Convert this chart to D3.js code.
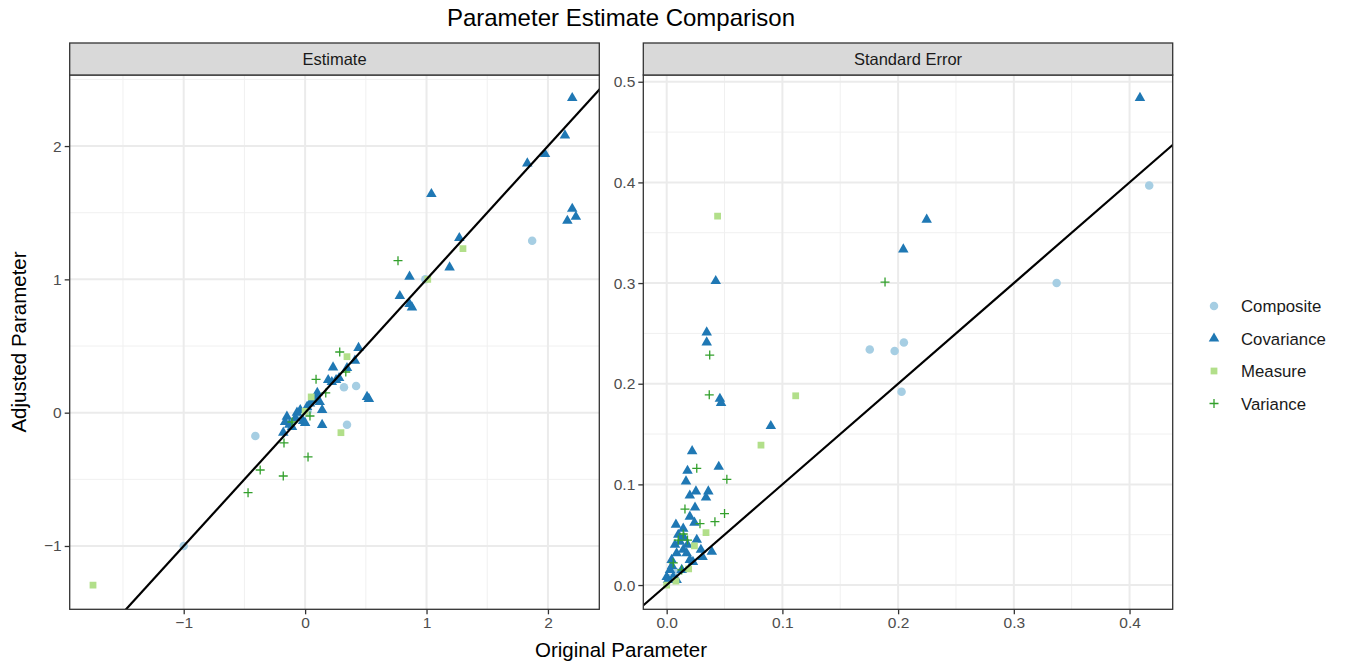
<!DOCTYPE html>
<html>
<head>
<meta charset="utf-8">
<script src="https://cdn.jsdelivr.net/npm/d3@7"></script>
<style>
  body { margin: 0; background: #fff; }
  text { font-family: "Liberation Sans", Arial, sans-serif; }
</style>
</head>
<body>
<div id="chart"></div>
<script>
// Data: [original, adjusted] pairs

var groups = ["Composite", "Covariance", "Measure", "Variance"];
var colors = ["#a6cee3", "#1f78b4", "#b2df8a", "#33a02c"];

var estComposite = [[1.87,1.29],[0.99,1.0],[0.32,0.19],[0.42,0.20],[-0.41,-0.175],[0.345,-0.09],[-1.0,-1.0],[0.02,0.01],[-0.05,-0.03]];
var estCovariance = [[2.20,2.36],[2.14,2.08],[1.976,1.94],[1.83,1.87],[2.20,1.53],[2.23,1.47],[2.16,1.44],[1.04,1.64],
  [1.27,1.31],[1.19,1.09],[0.86,1.02],[0.78,0.875],[0.86,0.815],[0.88,0.79],[0.44,0.486],[0.41,0.39],[0.23,0.34],
  [0.345,0.335],[0.19,0.245],[0.22,0.23],[0.255,0.245],[0.28,0.26],[0.51,0.118],[0.525,0.103],[0.10,0.148],
  [0.065,0.095],[0.12,0.08],[0.016,0.043],[-0.04,0.02],[-0.067,0.0],[-0.15,-0.03],[-0.165,-0.07],[-0.017,-0.062],
  [0.0,-0.077],[0.14,0.02],[0.14,-0.092],[-0.18,-0.15],[-0.108,-0.107],[0.04,0.07],[-0.08,-0.04],[-0.13,-0.09],[0.09,0.125]];
var estMeasure = [[-1.747,-1.293],[1.30,1.23],[1.01,1.0],[0.345,0.42],[0.05,0.118],[0.295,-0.15],[0.0,0.01]];
var estVariance = [[0.765,1.14],[0.285,0.455],[0.335,0.305],[0.09,0.25],[0.17,0.148],[0.04,-0.025],[-0.108,-0.07],
  [-0.174,-0.227],[0.024,-0.332],[-0.37,-0.43],[-0.18,-0.475],[-0.47,-0.60]];

var seComposite = [[0.417,0.397],[0.337,0.300],[0.1755,0.234],[0.197,0.2325],[0.205,0.241],[0.203,0.192],[0.003,0.007],[0.008,0.013]];
var seCovariance = [[0.409,0.484],[0.2247,0.363],[0.2045,0.3335],[0.0424,0.302],[0.0346,0.251],[0.0346,0.241],[0.046,0.185],
  [0.047,0.181],[0.090,0.158],[0.022,0.133],[0.045,0.1175],[0.018,0.1135],[0.0167,0.103],[0.0253,0.093],[0.020,0.089],
  [0.036,0.093],[0.034,0.087],[0.0245,0.077],[0.020,0.068],[0.024,0.062],[0.0143,0.056],[0.0296,0.035],[0.031,0.028],
  [0.039,0.033],[0.0043,0.025],[0.0086,0.0315],[0.0143,0.035],[0.0072,0.040],[0.0115,0.043],[0.0173,0.0315],
  [0.0029,0.015],[0.0,0.008],[0.0057,0.008],[0.0086,0.005],[0.013,0.015],[0.020,0.025],[0.0227,0.023],[0.0011,0.005],
  [0.01,0.05],[0.015,0.047],[0.0046,0.019],[0.018,0.04],[0.026,0.045],[0.008,0.06]];
var seMeasure = [[0.044,0.3666],[0.1115,0.188],[0.0815,0.139],[0.034,0.052],[0.024,0.039],[0.0,0.0],[0.019,0.016],[0.008,0.004]];
var seVariance = [[0.1887,0.301],[0.0372,0.2285],[0.0368,0.189],[0.026,0.116],[0.052,0.105],[0.0158,0.0755],[0.050,0.071],
  [0.0288,0.061],[0.0417,0.063],[0.010,0.0447],[0.0143,0.0507],[0.018,0.0447],[0.0057,0.022],[0.013,0.015]];

var estTicksX = [-1, 0, 1, 2];
var estTicksY = [-1, 0, 1, 2];
var seTicks = [0, 0.1, 0.2, 0.3, 0.4];
var seTicksY = [0, 0.1, 0.2, 0.3, 0.4, 0.5];

// Layout

var width = 1346, height = 666;
var plotTop = 75, plotBottom = 609.3, stripH = 32;

var svg = d3.select("#chart").append("svg")
    .attr("width", width)
    .attr("height", height);

var panels = [
  { name: "Estimate", x0: 69.7, x1: 599.3, xd: [-1.939, 2.423], yd: [-1.475, 2.533],
    xt: estTicksX, yt: estTicksY, xminor: [-1.5,-0.5,0.5,1.5], yminor: [-0.5,0.5,1.5,2.5],
    fmt: function(d) { return d < 0 ? "\u2212" + Math.abs(d) : String(d); },
    data: [estComposite, estCovariance, estMeasure, estVariance] },
  { name: "Standard Error", x0: 643.3, x1: 1172.7, xd: [-0.0202, 0.4373], yd: [-0.0241, 0.5067],
    xt: seTicks, yt: seTicksY, xminor: [0.05,0.15,0.25,0.35], yminor: [0.05,0.15,0.25,0.35,0.45],
    fmt: d3.format(".1f"),
    data: [seComposite, seCovariance, seMeasure, seVariance] }
];

function shapePath(i) {
  if (i == 0) return d3.symbol(d3.symbolCircle, 57)();
  if (i == 1) return d3.symbol(d3.symbolTriangle, 48)();
  if (i == 2) return d3.symbol(d3.symbolSquare, 46)();
  return "M-4.5,0H4.5M0,-4.5V4.5";
}

function drawMark(sel, i) {
  var p = sel.append("path").attr("d", shapePath(i));
  if (i == 3) p.attr("fill", "none").attr("stroke", colors[i]).attr("stroke-width", 1.3);
  else p.attr("fill", colors[i]);
  return p;
}

panels.forEach(function(pn, k) {
  var x = d3.scaleLinear().domain(pn.xd).range([pn.x0, pn.x1]);
  var y = d3.scaleLinear().domain(pn.yd).range([plotBottom, plotTop]);
  var g = svg.append("g");

  // background + grid
  g.append("rect").attr("x", pn.x0).attr("y", plotTop).attr("width", pn.x1 - pn.x0).attr("height", plotBottom - plotTop).attr("fill", "#fff");
  g.selectAll(".vmin").data(pn.xminor).enter().append("line")
    .attr("x1", d => x(d)).attr("x2", d => x(d)).attr("y1", plotTop).attr("y2", plotBottom)
    .attr("stroke", "#f0f0f0").attr("stroke-width", 1);
  g.selectAll(".hmin").data(pn.yminor).enter().append("line")
    .attr("y1", d => y(d)).attr("y2", d => y(d)).attr("x1", pn.x0).attr("x2", pn.x1)
    .attr("stroke", "#f0f0f0").attr("stroke-width", 1);
  g.selectAll(".vmaj").data(pn.xt).enter().append("line")
    .attr("x1", d => x(d)).attr("x2", d => x(d)).attr("y1", plotTop).attr("y2", plotBottom)
    .attr("stroke", "#ebebeb").attr("stroke-width", 2);
  g.selectAll(".hmaj").data(pn.yt).enter().append("line")
    .attr("y1", d => y(d)).attr("y2", d => y(d)).attr("x1", pn.x0).attr("x2", pn.x1)
    .attr("stroke", "#ebebeb").attr("stroke-width", 2);

  // clip
  svg.append("clipPath").attr("id", "clip" + k).append("rect")
    .attr("x", pn.x0).attr("y", plotTop).attr("width", pn.x1 - pn.x0).attr("height", plotBottom - plotTop);
  var pg = g.append("g").attr("clip-path", "url(#clip" + k + ")");

  // points
  pn.data.forEach(function(arr, i) {
    arr.forEach(function(d) {
      var m = pg.append("g").attr("transform", "translate(" + x(d[0]) + "," + y(d[1]) + ")");
      drawMark(m, i);
    });
  });

  // y = x reference line
  var lo = Math.min(pn.xd[0], pn.yd[0]), hi = Math.max(pn.xd[1], pn.yd[1]);
  pg.append("line")
    .attr("x1", x(lo)).attr("y1", y(lo)).attr("x2", x(hi)).attr("y2", y(hi))
    .attr("stroke", "#000").attr("stroke-width", 2.2);

  // border
  g.append("rect").attr("x", pn.x0).attr("y", plotTop).attr("width", pn.x1 - pn.x0).attr("height", plotBottom - plotTop)
    .attr("fill", "none").attr("stroke", "#333").attr("stroke-width", 1.3);

  // strip
  g.append("rect").attr("x", pn.x0).attr("y", plotTop - stripH).attr("width", pn.x1 - pn.x0).attr("height", stripH)
    .attr("fill", "#d9d9d9").attr("stroke", "#333").attr("stroke-width", 1.3);
  g.append("text").attr("x", (pn.x0 + pn.x1) / 2).attr("y", plotTop - stripH / 2 + 6)
    .attr("text-anchor", "middle").attr("font-size", 16.5).attr("fill", "#1a1a1a").text(pn.name);

  // axes
  var xa = g.append("g").attr("transform", "translate(0," + plotBottom + ")")
    .call(d3.axisBottom(x).tickValues(pn.xt).tickFormat(pn.fmt).tickSize(5).tickPadding(3));
  var ya = g.append("g").attr("transform", "translate(" + pn.x0 + ",0)")
    .call(d3.axisLeft(y).tickValues(pn.yt).tickFormat(pn.fmt).tickSize(5).tickPadding(3));
  [xa, ya].forEach(function(a) {
    a.select(".domain").remove();
    a.selectAll(".tick line").attr("stroke", "#333").attr("stroke-width", 1.3);
    a.selectAll(".tick text").attr("fill", "#4d4d4d").attr("font-size", 15.5)
      .style("font-family", '"Liberation Sans", Arial, sans-serif');
  });
});

// titles
svg.append("text").attr("x", 621).attr("y", 26).attr("text-anchor", "middle")
  .attr("font-size", 24).attr("fill", "#000").text("Parameter Estimate Comparison");
svg.append("text").attr("x", 621).attr("y", 657).attr("text-anchor", "middle")
  .attr("font-size", 20.5).attr("fill", "#000").text("Original Parameter");
svg.append("text").attr("transform", "translate(26,342) rotate(-90)").attr("text-anchor", "middle")
  .attr("font-size", 20.5).attr("fill", "#000").text("Adjusted Parameter");

// legend
var lg = svg.append("g");
groups.forEach(function(name, i) {
  var yy = 306 + i * 32.5;
  var m = lg.append("g").attr("transform", "translate(1214," + yy + ")");
  drawMark(m, i);
  lg.append("text").attr("x", 1241).attr("y", yy + 6).attr("font-size", 16.8).attr("fill", "#1a1a1a").text(name);
});
</script>
</body>
</html>
